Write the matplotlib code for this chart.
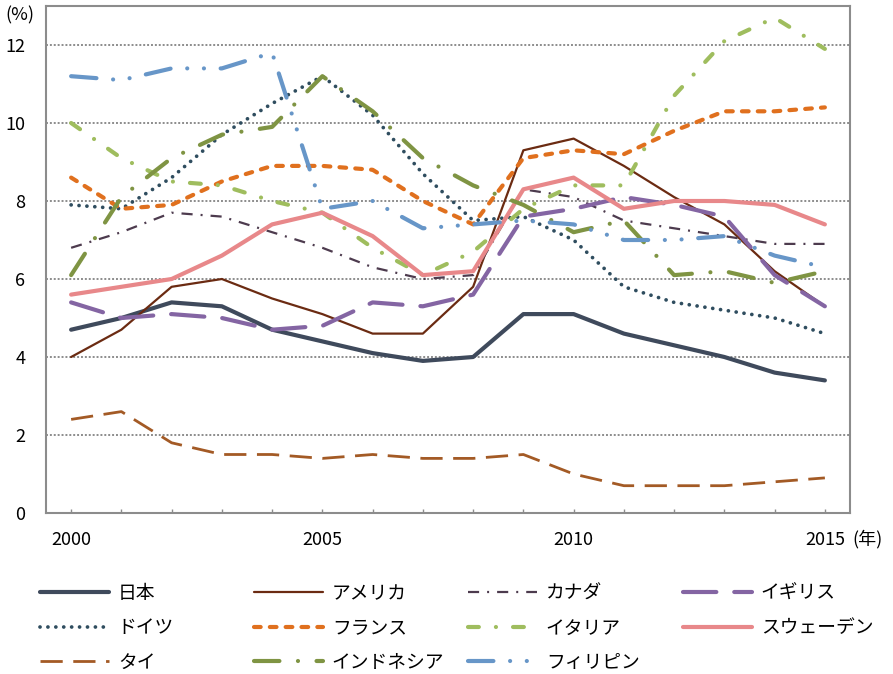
import matplotlib
matplotlib.use("Agg")
import matplotlib.pyplot as plt

plt.rcParams['font.family'] = ['Noto Sans CJK JP', 'DejaVu Sans']

years = list(range(2000, 2016))

japan = [4.7, 5.0, 5.4, 5.3, 4.7, 4.4, 4.1, 3.9, 4.0, 5.1, 5.1, 4.6, 4.3, 4.0, 3.6, 3.4]
usa = [4.0, 4.7, 5.8, 6.0, 5.5, 5.1, 4.6, 4.6, 5.8, 9.3, 9.6, 8.9, 8.1, 7.4, 6.2, 5.3]
canada = [6.8, 7.2, 7.7, 7.6, 7.2, 6.8, 6.3, 6.0, 6.1, 8.3, 8.1, 7.5, 7.3, 7.1, 6.9, 6.9]
uk = [5.4, 5.0, 5.1, 5.0, 4.7, 4.8, 5.4, 5.3, 5.6, 7.6, 7.8, 8.1, 7.9, 7.6, 6.1, 5.3]
germany = [7.9, 7.8, 8.6, 9.7, 10.5, 11.2, 10.2, 8.7, 7.5, 7.6, 7.0, 5.8, 5.4, 5.2, 5.0, 4.6]
france = [8.6, 7.8, 7.9, 8.5, 8.9, 8.9, 8.8, 8.0, 7.4, 9.1, 9.3, 9.2, 9.8, 10.3, 10.3, 10.4]
italy = [10.0, 9.1, 8.5, 8.4, 8.0, 7.7, 6.8, 6.1, 6.7, 7.8, 8.4, 8.4, 10.7, 12.1, 12.7, 11.9]
sweden = [5.6, 5.8, 6.0, 6.6, 7.4, 7.7, 7.1, 6.1, 6.2, 8.3, 8.6, 7.8, 8.0, 8.0, 7.9, 7.4]
thailand = [2.4, 2.6, 1.8, 1.5, 1.5, 1.4, 1.5, 1.4, 1.4, 1.5, 1.0, 0.7, 0.7, 0.7, 0.8, 0.9]
indonesia = [6.1, 8.1, 9.1, 9.7, 9.9, 11.2, 10.3, 9.1, 8.4, 7.9, 7.2, 7.5, 6.1, 6.2, 5.9, 6.2]
philippines = [11.2, 11.1, 11.4, 11.4, 11.8, 7.8, 8.0, 7.3, 7.4, 7.5, 7.4, 7.0, 7.0, 7.1, 6.6, 6.3]

names = ['日本', 'アメリカ', 'カナダ', 'イギリス', 'ドイツ', 'フランス',
         'イタリア', 'スウェーデン', 'タイ', 'インドネシア', 'フィリピン']
series = [japan, usa, canada, uk, germany, france, italy, sweden,
          thailand, indonesia, philippines]

# colour, linewidth (pt), dash pattern (None = solid), capstyle
styles = [
    ('#3f4a5c', 3.0, None, 'round'),
    ('#6b2b12', 1.6, None, 'round'),
    ('#4d3b4e', 1.6, (5, 3.6, 0.9, 3.6), 'butt'),
    ('#8465a3', 3.0, (8, 4.3), 'round'),
    ('#2f4d5f', 2.7, (0.01, 2.1), 'round'),
    ('#e0701e', 3.0, (1.6, 2.2), 'round'),
    ('#9fbd5e', 3.0, (2.6, 4.1, 0.01, 4.1), 'round'),
    ('#e8888a', 3.0, None, 'round'),
    ('#a35a25', 2.0, (8, 3.8), 'butt'),
    ('#7f9443', 3.0, (6.1, 4.45, 0.01, 4.45), 'round'),
    ('#6796c8', 3.0, (6.1, 4, 0.01, 4, 0.01, 4), 'round'),
]

fig = plt.figure(figsize=(8.93, 6.74), dpi=100)
ax = fig.add_axes([46 / 893, 1 - 513 / 674, (850 - 46) / 893, (513 - 6) / 674])

handles = []
for vals, name, (c, lw, dash, cap) in zip(series, names, styles):
    ln, = ax.plot(years, vals, color=c, lw=lw, label=name,
                  solid_capstyle=cap, dash_capstyle=cap)
    if dash is not None:
        ln.set_dashes(dash)
    handles.append(ln)

ax.set_xlim(1999.5, 2015.5)
ax.set_ylim(0, 13)
ax.set_yticks(range(0, 13, 2))
ax.set_xticks(years)
ax.set_xticklabels([str(y) if y % 5 == 0 else '' for y in years])

for y in range(2, 13, 2):
    gl, = ax.plot([1999.5, 2015.5], [y, y], color='#8c8c8c', lw=1.4, zorder=0)
    gl.set_dashes((1, 1))

for s in ax.spines.values():
    s.set_color('#8c8c8c')
    s.set_linewidth(1.5)

ax.tick_params(axis='x', direction='in', length=3, width=1, color='#8c8c8c',
               labelsize=13, pad=13)
ax.tick_params(axis='y', length=0, labelsize=13, pad=15)

fig.text(20 / 893, 1 - 15 / 674, '(%)', fontsize=13, ha='center', va='center')
fig.text(868 / 893, 1 - 539 / 674, '(年)', fontsize=13, ha='center', va='center')

# legend: four columns laid out row-wise like the original
col_x = [40, 254, 468, 683]
for col in range(4):
    idx = [i for i in range(len(names)) if i % 4 == col]
    fig.legend([handles[i] for i in idx], [names[i] for i in idx],
               loc='upper left', bbox_to_anchor=(col_x[col] / 893, 1 - 583 / 674),
               frameon=False, fontsize=13.5, handlelength=3.7,
               handletextpad=0.45, labelspacing=0.72, borderpad=0,
               borderaxespad=0)

fig.savefig('out.png', dpi=100)
